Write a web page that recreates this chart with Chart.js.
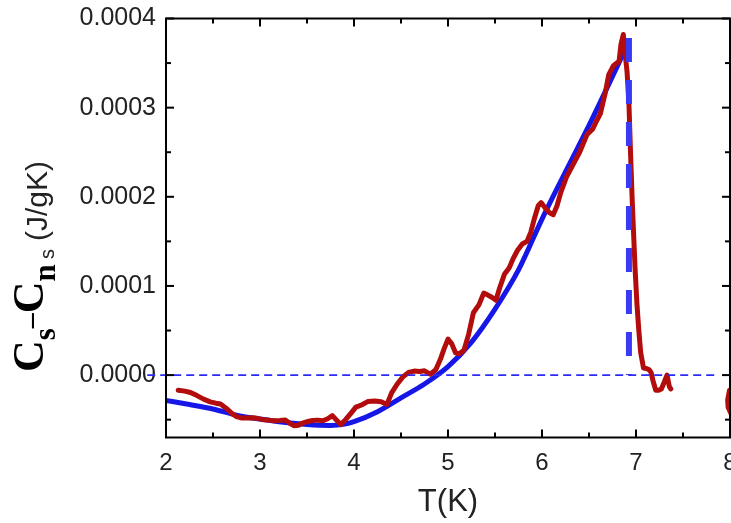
<!DOCTYPE html>
<html><head><meta charset="utf-8">
<script src="https://cdn.jsdelivr.net/npm/chart.js@4"></script>
<style>html,body{margin:0;padding:0;background:#fff;overflow:hidden}#wrap{width:731px;height:523px;position:relative}canvas{display:block}</style>
</head><body><div id="wrap"><canvas id="c" width="731" height="523" style="width:731px;height:523px"></canvas></div>
<script>
// measured data C_s - C_n (J/gK) vs T(K)
const redT = [2.13,2.2,2.26,2.33,2.40,2.47,2.53,2.58,2.65,2.70,2.75,2.80,2.86,2.92,2.97,3.03,3.09,3.15,3.21,3.27,3.31,3.36,3.41,3.46,3.51,3.56,3.61,3.67,3.72,3.77,3.81,3.86,3.91,3.96,4.02,4.08,4.15,4.22,4.29,4.35,4.40,4.46,4.52,4.58,4.64,4.70,4.75,4.81,4.87,4.92,4.96,5.00,5.04,5.08,5.12,5.17,5.22,5.27,5.33,5.38,5.42,5.47,5.51,5.55,5.60,5.65,5.69,5.74,5.79,5.84,5.88,5.92,5.96,5.99,6.03,6.08,6.12,6.16,6.20,6.26,6.33,6.40,6.44,6.48,6.54,6.58,6.62,6.67,6.71,6.76,6.82,6.84,6.865,6.885,6.905,6.925,6.94,6.96,6.99,7.01,7.03,7.05,7.08,7.11,7.14,7.16,7.18,7.21,7.24,7.27,7.30,7.33,7.355,7.37,7.6,7.995,7.975,7.98,8.01];
const redC = [-0.0000170,-0.0000180,-0.0000195,-0.0000230,-0.0000270,-0.0000300,-0.0000315,-0.0000325,-0.0000380,-0.0000430,-0.0000465,-0.0000480,-0.0000482,-0.0000478,-0.0000485,-0.0000500,-0.0000505,-0.0000512,-0.0000510,-0.0000505,-0.0000535,-0.0000568,-0.0000562,-0.0000535,-0.0000520,-0.0000510,-0.0000505,-0.0000512,-0.0000490,-0.0000455,-0.0000500,-0.0000555,-0.0000500,-0.0000437,-0.0000360,-0.0000335,-0.0000295,-0.0000290,-0.0000300,-0.0000330,-0.0000200,-0.0000100,-0.0000020,0.0000030,0.0000045,0.0000040,0.0000048,0.0000010,0.0000060,0.0000180,0.0000300,0.0000404,0.0000350,0.0000250,0.0000240,0.0000280,0.0000460,0.0000700,0.0000790,0.0000920,0.0000900,0.0000870,0.0000840,0.0000980,0.0001130,0.0001200,0.0001300,0.0001400,0.0001470,0.0001500,0.0001600,0.0001760,0.0001900,0.0001935,0.0001880,0.0001820,0.0001800,0.0001900,0.0002050,0.0002220,0.0002360,0.0002500,0.0002600,0.0002700,0.0002760,0.0002850,0.0002930,0.0003150,0.0003370,0.0003470,0.0003520,0.0003710,0.0003820,0.0003600,0.0003400,0.0003040,0.0002550,0.0001950,0.0001200,0.0000800,0.0000500,0.0000250,0.0000080,0.0000075,0.0000060,0.0000030,-0.0000060,-0.0000170,-0.0000170,-0.0000155,-0.0000080,0.0000000,-0.0000130,-0.0000155,null,-0.000017,-0.000028,-0.000036,-0.000043];
// fit curve
const fitT = [2.0,2.25,2.5,2.75,3.0,3.25,3.5,3.75,3.9,4.0,4.25,4.5,4.75,5.0,5.25,5.5,5.75,6.0,6.25,6.5,6.75,6.87];
const fitC = [-0.0000285,-0.0000330,-0.0000380,-0.0000450,-0.0000493,-0.0000530,-0.0000555,-0.0000565,-0.0000550,-0.0000522,-0.0000410,-0.0000255,-0.0000100,0.0000095,0.0000370,0.0000740,0.0001180,0.0001750,0.0002280,0.0002800,0.0003350,0.0003620];
// jump at Tc
const tcT = [6.925, 6.925];
const tcC = [0.000378, 0];
// zero reference
const zeroT = [1.8, 7.85];
const zeroC = [0, 0];
const xTicks = [2,3,4,5,6,7,8];
const yTicks = [0, 0.0001, 0.0002, 0.0003, 0.0004];

const pts = (xs, ys) => xs.map((v,i)=>({x:v, y:ys[i]}));
const SANS = '"Liberation Sans", Arial, sans-serif';
const SERIF = '"Liberation Serif", "Times New Roman", serif';

const framePlugin = {
  id:'frame',
  afterDatasetsDraw(chart){
    const {ctx, chartArea:a, scales:{x,y}} = chart;
    ctx.save();
    ctx.strokeStyle='#000'; ctx.lineWidth=2; ctx.lineCap='butt';
    ctx.strokeRect(a.left, a.top, a.right-a.left, a.bottom-a.top);
    const seg=(x1,y1,x2,y2)=>{ctx.beginPath();ctx.moveTo(x1,y1);ctx.lineTo(x2,y2);ctx.stroke();};
    for(let i=0;i<xTicks.length;i++){
      const px=x.getPixelForValue(xTicks[i]);
      seg(px,a.bottom,px,a.bottom-8); seg(px,a.top,px,a.top+8);
      if(i<xTicks.length-1){
        const m=x.getPixelForValue((xTicks[i]+xTicks[i+1])/2);
        seg(m,a.bottom,m,a.bottom-5); seg(m,a.top,m,a.top+5);
      }
    }
    const step=yTicks[1]-yTicks[0];
    const minors=[yTicks[0]-step/2];
    for(let i=0;i<yTicks.length-1;i++) minors.push((yTicks[i]+yTicks[i+1])/2);
    for(const v of yTicks){const py=y.getPixelForValue(v); seg(a.left,py,a.left+8,py); seg(a.right,py,a.right-8,py);}
    for(const v of minors){const py=y.getPixelForValue(v); seg(a.left,py,a.left+5,py); seg(a.right,py,a.right-5,py);}
    ctx.restore();
  },
  afterDraw(chart){
    const ctx=chart.ctx;
    ctx.save();
    ctx.translate(43, 372); ctx.rotate(-Math.PI/2);
    ctx.fillStyle='#000'; ctx.textAlign='left'; ctx.textBaseline='alphabetic';
    let p=0;
    const parts=[['C','bold 44px '+SERIF,0],['s','bold 31px '+SERIF,12],['\u2013','bold 30px '+SERIF,-3],['C','bold 44px '+SERIF,0],['n','bold 31px '+SERIF,12]];
    for(const [t,f,dy] of parts){ctx.font=f; ctx.fillText(t,p,dy); p+=ctx.measureText(t).width;}
    ctx.font='20px '+SANS; ctx.fillStyle='#222';
    ctx.fillText('s',113,11);
    ctx.font='30px '+SANS;
    ctx.fillText('(J/gK)',131,4);
    ctx.restore();
  }
};

new Chart(document.getElementById('c'), {
  type:'scatter',
  data:{datasets:[
    {label:'zero', data:pts(zeroT,zeroC), showLine:true, borderColor:'#2b2bf5', borderWidth:1.6, borderDash:[8,5], pointRadius:0, clip:false},
    {label:'Tc', data:pts(tcT,tcC), showLine:true, borderColor:'#3a3af5', borderWidth:6, borderDash:[24,18], borderCapStyle:'butt', pointRadius:0},
    {label:'data', data:pts(redT,redC), showLine:true, spanGaps:false, borderColor:'#b30c0c', borderWidth:5, borderJoinStyle:'round', borderCapStyle:'round', pointRadius:0, tension:0},
    {label:'fit', data:pts(fitT,fitC), showLine:true, borderColor:'#1616e6', borderWidth:5, cubicInterpolationMode:'monotone', pointRadius:0}
  ]},
  options:{
    responsive:false, animation:false, devicePixelRatio:1,
    layout:{padding:{left:0,top:18.5,right:1,bottom:0}, autoPadding:false},
    plugins:{legend:{display:false}, tooltip:{enabled:false}},
    scales:{
      x:{type:'linear', min:2, max:8,
        afterFit(s){s.height=85.5; s.paddingLeft=0; s.paddingRight=0;},
        afterBuildTicks(s){s.ticks=xTicks.map(v=>({value:v}));},
        grid:{display:false, drawTicks:false}, border:{display:false},
        ticks:{padding:11, color:'#222', font:{family:SANS,size:24}, maxRotation:0, autoSkip:false, callback:v=>String(v)},
        title:{display:true, text:'T(K)', color:'#222', font:{family:SANS,size:31}, padding:{top:0,bottom:2}}
      },
      y:{type:'linear', min:-0.00007, max:0.0004,
        afterFit(s){s.width=166; s.paddingTop=0; s.paddingBottom=0;},
        afterBuildTicks(s){s.ticks=yTicks.map(v=>({value:v}));},
        grid:{display:false, drawTicks:false}, border:{display:false},
        ticks:{padding:10, color:'#222', font:{family:SANS,size:25}, autoSkip:false, callback:v=>Number(v).toFixed(4)}
      }
    }
  },
  plugins:[framePlugin]
});
</script></body></html>
